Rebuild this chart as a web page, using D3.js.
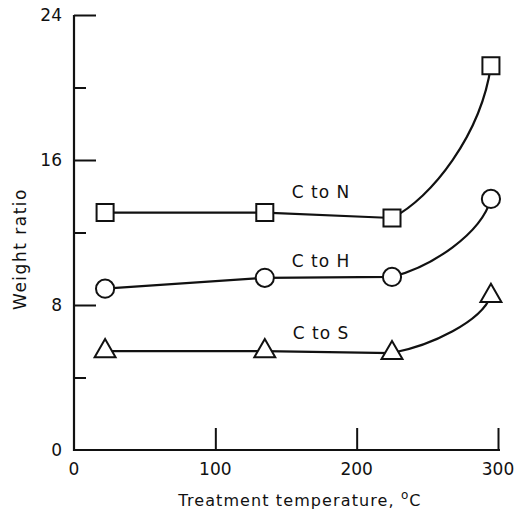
<!DOCTYPE html>
<html>
<head>
<meta charset="utf-8">
<script src="https://cdn.jsdelivr.net/npm/d3@7"></script>
<style>
  body { margin: 0; background: #fff; }
  text { font-family: "DejaVu Sans", sans-serif; fill: #111; }
</style>
</head>
<body>
<script>
// data
var temps = [22, 135, 225, 295];
var cToN = [13.1, 13.1, 12.8, 21.2];
var cToH = [8.9, 9.5, 9.55, 13.85];
var cToS = [5.45, 5.45, 5.35, 8.5];
var yMajor = [0, 8, 16, 24];
var yMinor = [4, 12, 20];
var xMajor = [0, 100, 200, 300];

var width = 522, height = 510;

var svg = d3.select("body").append("svg")
    .attr("width", width)
    .attr("height", height);

// scales
var x = d3.scaleLinear().domain([0, 300]).range([74, 498]);
var y = d3.scaleLinear().domain([0, 24]).range([450, 15]);

var ink = "#111";

// axes (ticks point inward)
var yAxis = d3.axisRight(y).tickValues(yMajor.filter(d => d > 0)).tickSize(22).tickFormat("");
var yAxisMinor = d3.axisRight(y).tickValues(yMinor).tickSize(12).tickFormat("");
var xAxis = d3.axisTop(x).tickValues(xMajor.filter(d => d > 0)).tickSize(22).tickFormat("");

function styleAxis(g) {
    g.select(".domain").remove();
    g.selectAll("line").attr("stroke", ink).attr("stroke-width", 2);
}

svg.append("g").attr("transform", "translate(" + x(0) + ",0)").call(yAxis).call(styleAxis);
svg.append("g").attr("transform", "translate(" + x(0) + ",0)").call(yAxisMinor).call(styleAxis);
svg.append("g").attr("transform", "translate(0," + y(0) + ")").call(xAxis).call(styleAxis);

// axis lines
svg.append("path")
    .attr("d", "M" + x(0) + "," + y(24) + "V" + y(0) + "H" + (x(300) + 2))
    .attr("fill", "none").attr("stroke", ink).attr("stroke-width", 2.2);

// tick labels
svg.selectAll(".ylab").data(yMajor).enter().append("text")
    .attr("x", 62).attr("y", d => y(d) + 6)
    .attr("text-anchor", "end").attr("font-size", 17)
    .text(d => d);

svg.selectAll(".xlab").data(xMajor).enter().append("text")
    .attr("x", d => x(d)).attr("y", 475)
    .attr("text-anchor", "middle").attr("font-size", 17)
    .text(d => d);

// axis titles
var xt = svg.append("text")
    .attr("x", 300).attr("y", 506)
    .attr("text-anchor", "middle").attr("font-size", 16)
    .attr("letter-spacing", 1.1);
xt.append("tspan").text("Treatment temperature, ");
xt.append("tspan").attr("dy", -7).attr("font-size", 12).text("o");
xt.append("tspan").attr("dy", 7).text("C");

svg.append("text")
    .attr("transform", "translate(26,249) rotate(-90)")
    .attr("text-anchor", "middle").attr("font-size", 17)
    .attr("letter-spacing", 1.5)
    .text("Weight ratio");

// curve: nearly straight through the flat part, then bending up to the last point
function FlatThenRise(context) { this._context = context; }
FlatThenRise.prototype = {
    areaStart: function() {}, areaEnd: function() {},
    lineStart: function() { this._pts = []; },
    point: function(px, py) { this._pts.push([px, py]); },
    lineEnd: function() {
        var p = this._pts, c = this._context, n = p.length;
        c.moveTo(p[0][0], p[0][1]);
        for (var i = 1; i < n - 1; i++) c.lineTo(p[i][0], p[i][1]);
        var a = p[n - 2], b = p[n - 1], dx = b[0] - a[0], dy = b[1] - a[1];
        c.bezierCurveTo(a[0] + 0.4 * dx, a[1] + 0.13 * dy,
                        a[0] + 0.9 * dx, a[1] + 0.55 * dy,
                        b[0], b[1]);
    }
};
var flatThenRise = function(context) { return new FlatThenRise(context); };

// series
var series = [
    { name: "C to N", values: cToN, shape: d3.symbolSquare, size: 290, lx: 321, ly: 198 },
    { name: "C to H", values: cToH, shape: d3.symbolCircle, size: 260, lx: 321, ly: 267 },
    { name: "C to S", values: cToS, shape: d3.symbolTriangle, size: 190, lx: 321, ly: 339 }
];

var line = d3.line()
    .x((d, i) => x(temps[i]))
    .y(d => y(d))
    .curve(flatThenRise);

series.forEach(function(s) {
    svg.append("path")
        .attr("d", line(s.values))
        .attr("fill", "none").attr("stroke", ink).attr("stroke-width", 2.2);

    svg.selectAll(null).data(s.values).enter().append("path")
        .attr("transform", (d, i) => "translate(" + x(temps[i]) + "," + y(d) + ")")
        .attr("d", d3.symbol().type(s.shape).size(s.size))
        .attr("fill", "#fff").attr("stroke", ink).attr("stroke-width", 2);

    svg.append("text")
        .attr("x", s.lx).attr("y", s.ly)
        .attr("text-anchor", "middle").attr("font-size", 17)
        .attr("letter-spacing", 1)
        .text(s.name);
});
</script>
</body>
</html>
